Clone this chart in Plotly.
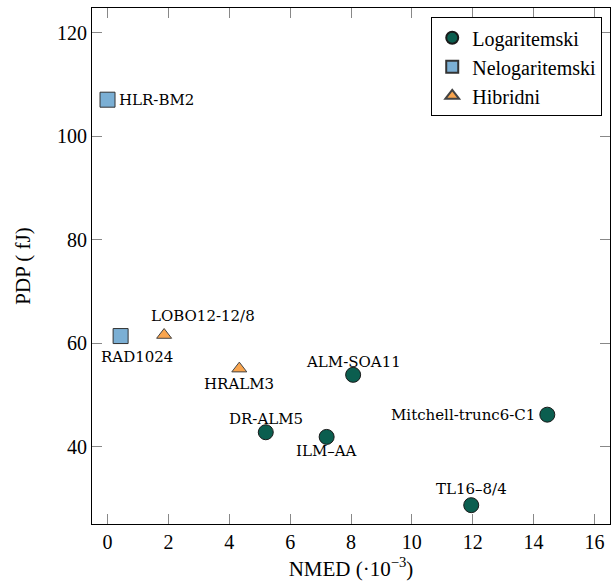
import plotly.graph_objects as go

log_names = ["ALM-SOA11", "Mitchell-trunc6-C1", "DR-ALM5", "ILM–AA", "TL16–8/4"]
log_x = [8.07, 14.45, 5.2, 7.2, 11.95]
log_y = [53.9, 46.2, 42.8, 41.9, 28.7]

nelog_names = ["HLR-BM2", "RAD1024"]
nelog_x = [0.0, 0.43]
nelog_y = [107.1, 61.4]

hyb_names = ["LOBO12-12/8", "HRALM3"]
hyb_x = [1.86, 4.33]
hyb_y = [61.6, 55.1]

# label placement (anchor, x-shift px, y-shift px) per point
log_lab = [("center", 0, 13), ("right", -10, 0), ("center", 0, 13), ("center", 0, -14), ("center", 0, 16)]
nelog_lab = [("left", 9, 0), ("center", 16, -21)]
hyb_lab = [("center", 39, 19), ("center", 0, -15)]

FONT = "Liberation Serif, DejaVu Serif, serif"
LABFONT = "DejaVu Serif, serif"

fig = go.Figure()
fig.add_trace(go.Scatter(
    x=log_x, y=log_y, mode="markers", name="Logaritemski",
    marker=dict(symbol="circle", size=15, color="#0B5E4F",
                line=dict(color="#1a1a1a", width=1))))
fig.add_trace(go.Scatter(
    x=nelog_x, y=nelog_y, mode="markers", name="Nelogaritemski",
    marker=dict(symbol="square", size=15, color="#7BAFD4",
                line=dict(color="#333", width=1))))
fig.add_trace(go.Scatter(
    x=hyb_x, y=hyb_y, mode="markers", name="Hibridni",
    marker=dict(symbol="triangle-up", size=13, color="#F9A54E",
                line=dict(color="#444", width=1))))

for names, xs, ys, labs in [(log_names, log_x, log_y, log_lab),
                             (nelog_names, nelog_x, nelog_y, nelog_lab),
                             (hyb_names, hyb_x, hyb_y, hyb_lab)]:
    for n, xv, yv, (anc, dx, dy) in zip(names, xs, ys, labs):
        fig.add_annotation(x=xv, y=yv, text=n, showarrow=False,
                           xanchor=anc, yanchor="middle", xshift=dx, yshift=dy,
                           font=dict(family=LABFONT, size=15, color="black"))

axis_common = dict(showline=True, linecolor="black", linewidth=1, mirror="ticks",
                   ticks="inside", ticklen=10, tickcolor="#888", tickwidth=1,
                   showgrid=False, zeroline=False,
                   tickfont=dict(family=FONT, size=20, color="black"))

fig.update_layout(
    width=614, height=585,
    margin=dict(l=92, r=4, t=8, b=61),
    paper_bgcolor="white", plot_bgcolor="white",
    font=dict(family=FONT, size=20, color="black"),
    xaxis=dict(range=[-0.51, 16.51], tickvals=list(range(0, 17, 2)),
               title=dict(text="NMED (·10<sup>−3</sup>)", font=dict(family=FONT, size=21), standoff=9),
               **axis_common),
    yaxis=dict(range=[25.06, 124.83], tickvals=[40, 60, 80, 100, 120],
               title=dict(text="PDP ( fJ)", font=dict(family=FONT, size=21), standoff=20),
               **axis_common),
    legend=dict(x=0.985, y=0.982, xanchor="right", yanchor="top",
                bordercolor="black", borderwidth=1, bgcolor="white",
                font=dict(family=FONT, size=20), itemsizing="constant",
                itemwidth=30, tracegroupgap=0),
    showlegend=True,
)

fig.write_html("out.html", config={"displayModeBar": False},
               post_script="document.body.style.margin='0';document.body.style.overflow='hidden';")
